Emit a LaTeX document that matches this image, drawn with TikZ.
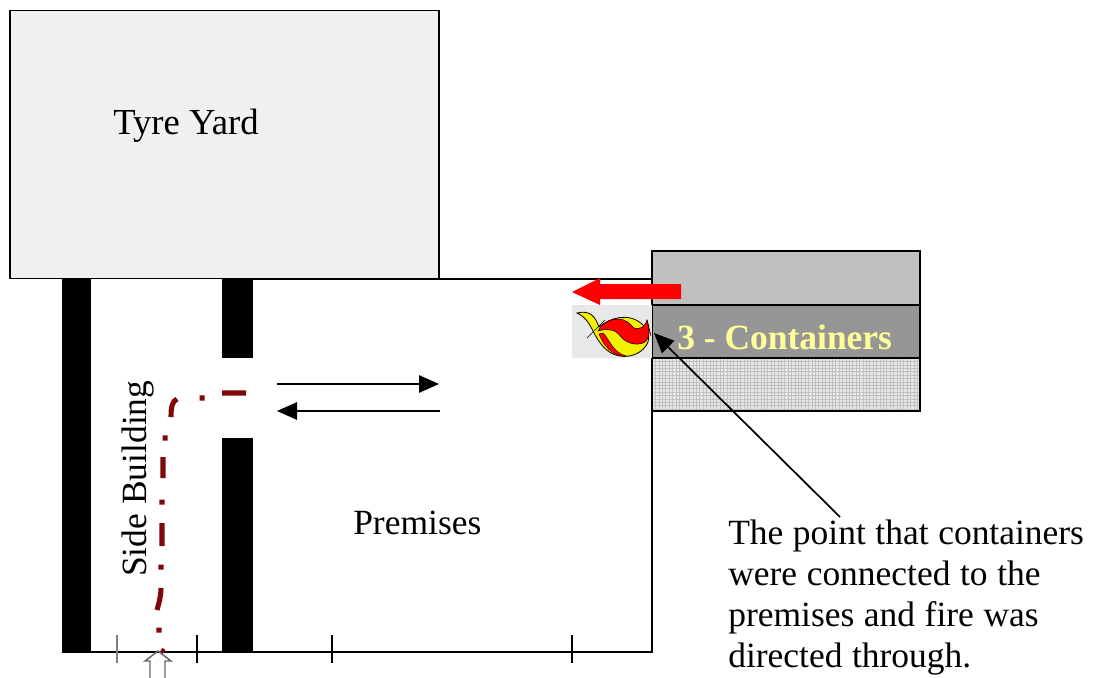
\documentclass[tikz,border=0pt]{standalone}
\usepackage{fontspec}
\setmainfont{Liberation Serif}
\usetikzlibrary{arrows.meta}
\definecolor{yardgrey}{HTML}{F0F0F0}
\definecolor{contA}{HTML}{C0C0C0}
\definecolor{contB}{HTML}{969696}
\definecolor{contC}{HTML}{E8E8E8}
\definecolor{meshline}{HTML}{C0C0C0}
\definecolor{iconbg}{HTML}{E8E8E8}
\definecolor{pathred}{HTML}{800808}
\definecolor{paleyellow}{HTML}{FFFF99}
\definecolor{flamey}{HTML}{F2F200}
\tikzset{
  outline/.style={draw=black,line width=1.3pt},
  wall/.style={fill=black,draw=none},
  tick/.style={draw=black,line width=1pt},
  thinarrow/.style={draw=black,line width=1.3pt,-{Triangle[length=15pt,width=13pt]}},
  firepath/.style={draw=pathred,line width=3.8pt},
  label/.style={font=\fontsize{26.6}{30}\selectfont,inner sep=0pt,text=black},
}
\begin{document}
\begin{tikzpicture}[x=0.75pt,y=-0.75pt]
\useasboundingbox (0,0) rectangle (1093,678);
\clip (0,0) rectangle (1093,678);
\fill[white] (0,0) rectangle (1093,678);
% premises outline
\draw[outline] (253,279) -- (652,279) -- (652,652) -- (62,652);
% tyre yard
\node[outline,fill=yardgrey,minimum width=321.5pt,minimum height=201pt,inner sep=0pt,outer sep=0pt,anchor=north west] (yard) at (10,10.5) {};
\node[label,font=\fontsize{27.5}{30}\selectfont,anchor=base west] (yardt) at (113,134) {Tyre Yard};
% walls
\fill[wall] (62,279) rectangle (91,652);
\fill[wall] (222,279) rectangle (253,358);
\fill[wall] (222,438) rectangle (253,652);
% ticks
\draw[draw=gray,line width=1pt] (117,635) -- (117,663);
\draw[tick] (197,635) -- (197,663);
\draw[tick] (332,635) -- (332,663);
\draw[tick] (572,635) -- (572,663);
% containers
\draw[outline,fill=contA] (652,251) rectangle (920,305);
\draw[outline,fill=contB] (652,305) rectangle (920,358);
\fill[contC] (652,358) rectangle (920,411);
\begin{scope}
\clip (652,358) rectangle (920,411);
\foreach \i in {0,...,80} \draw[meshline,line width=0.45pt] (652+\i*3.4,358) -- (652+\i*3.4,411);
\foreach \i in {0,...,16} \draw[meshline,line width=0.45pt] (652,358+\i*3.4) -- (920,358+\i*3.4);
\end{scope}
\draw[outline] (652,358) rectangle (920,411);
\node[font=\fontsize{26.6}{30}\selectfont\bfseries,text=paleyellow,inner sep=0pt,anchor=base west] (cont) at (677,349) {3 - Containers};
% flame icon
\fill[iconbg] (572,305) rectangle (652,358);
\draw[black,line width=0.6pt,fill=flamey] (577,313) .. controls (590,310) and (595,316) .. (599,327)
  .. controls (610,318) and (628,312) .. (642,324)
  .. controls (648,330) and (650,336) .. (648,342)
  .. controls (644,352) and (632,358) .. (620,356)
  .. controls (606,354) and (599,342) .. (594,333)
  .. controls (590,325) and (586,317) .. (577,313) -- cycle;
\draw[black,line width=0.4pt,fill=red] (598,331) .. controls (602,323) and (610,319) .. (618,319)
  .. controls (626,319) and (630,324) .. (634,328)
  .. controls (640,330) and (645,327) .. (647,320)
  .. controls (650,330) and (650,338) .. (645,342)
  .. controls (638,346) and (628,344) .. (622,338)
  .. controls (618,333) and (615,330) .. (610,330)
  .. controls (606,329) and (601,330) .. (598,331) -- cycle;
\draw[black,line width=0.3pt,fill=red] (603,333) .. controls (609,338) and (612,352) .. (626,356)
  .. controls (618,357) and (606,352) .. (599,334) -- cycle;
\draw[black,line width=0.5pt] (587,338) -- (605,320);
\draw[black,line width=0.5pt] (647,320) -- (651,336);
% red arrow
\fill[red] (681,284) -- (600,284) -- (600,278) -- (572,292) -- (600,305) -- (600,299) -- (681,299) -- cycle;
% door arrows
\coordinate (a1) at (277,384); \coordinate (a2) at (439,384);
\coordinate (b1) at (440,411); \coordinate (b2) at (277,411);
\draw[thinarrow] (a1) -- (a2);
\draw[thinarrow] (b1) -- (b2);
% fire path
\draw[firepath] (222,393) -- (246,393)
  (199.5,398) -- (204.5,398)
  (177,399) .. controls (172,401) and (171,408) .. (171,417)
  (162.5,438) -- (167.5,438)
  (163,457) -- (163,478)
  (162,499.5) -- (162,504.5)
  (162,523) -- (162,546)
  (161,564.5) -- (161,569.5)
  (161,588) .. controls (161,596) and (159,603) .. (157,610)
  (159,627.5) -- (159,632.5)
  (161,650) -- (164,652);
% hollow arrow
\draw[draw=black!60,line width=1.1pt] (150,680) -- (150,661) -- (145,661) -- (158,651) -- (171,661) -- (165,661) -- (165,680);
% labels
\node[label,rotate=90,anchor=base west] (side) at (146,577) {Side Building};
\node[label,anchor=base west] (prem) at (353,534) {Premises};
\node[label,align=left,anchor=north west,text width=360pt,font=\fontsize{26.6}{30.75}\selectfont] (note) at (728,520) {\spaceskip=0.27em\relax The point that containers\\were connected to the\\premises and fire was\\directed through.};
\coordinate (notept) at (840,517);
\coordinate (firept) at (654,333);
\draw[thinarrow] (notept) -- (firept);
\end{tikzpicture}
\end{document}
